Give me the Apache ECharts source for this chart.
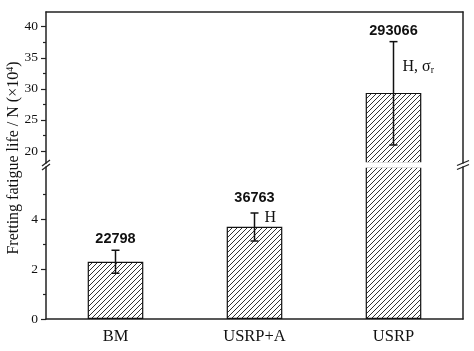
<!DOCTYPE html>
<html><head><meta charset="utf-8">
<script src="https://cdn.jsdelivr.net/npm/echarts@6/dist/echarts.min.js"></script>
<style>html,body{margin:0;padding:0;background:#fff}#c{width:474px;height:351px}</style>
</head><body><div id="c"></div>
<script>
// ---- data (fatigue life in units of 10^4 cycles) ----
const categories = ['BM', 'USRP+A', 'USRP'];
const barValues = [2.29, 3.69, 29.35];
const errLow = [1.83, 3.12, 20.97];
const errHigh = [2.75, 4.24, 37.6];
const lifeLabels = ['22798', '36763', '293066'];
const notes = ['', 'H', 'H, σ{sub|r}'];
const lowerTicks = [0, 2, 4];
const lowerMinorTicks = [1, 3, 5];
const upperTicks = [20, 25, 30, 35, 40];
const upperMinorTicks = [22.5, 27.5, 32.5, 37.5];
const lowerRange = [0, 6.08];
const upperRange = [18.07, 42.37];

// ---- style / layout ----
const GL = 46, GR = 11;
const labelGap = [11, 15, 11];
const noteDx = [10, 10, 9];
const noteDy = [0, 5, 25];
const axisColor = '#222';
const serif = '"Liberation Serif", "Times New Roman", serif';

const pat = document.createElement('canvas');
pat.width = 5; pat.height = 5;
(function () {
  const g = pat.getContext('2d');
  g.fillStyle = '#fff'; g.fillRect(0, 0, 5, 5);
  g.strokeStyle = '#333'; g.lineWidth = 1;
  g.beginPath();
  g.moveTo(-1, 6); g.lineTo(6, -1);
  g.moveTo(-1, 1); g.lineTo(1, -1);
  g.moveTo(4, 6); g.lineTo(6, 4);
  g.stroke();
})();
const barStyle = { color: { image: pat, repeat: 'repeat' }, borderColor: '#111', borderWidth: 1.2 };

const chart = echarts.init(document.getElementById('c'), null, { renderer: 'canvas' });

function valueAxis(grid, range, ticks, minor) {
  return [
    { type: 'value', gridIndex: grid, position: 'left', min: range[0], max: range[1],
      axisLine: { show: true, onZero: false, lineStyle: { color: axisColor, width: 1.5 } },
      axisTick: { show: true, length: 5, customValues: ticks, lineStyle: { color: axisColor, width: 1.2 } },
      axisLabel: { customValues: ticks, fontFamily: serif, fontSize: 13.5, color: '#111', margin: 8 },
      splitLine: { show: false } },
    { type: 'value', gridIndex: grid, position: 'left', min: range[0], max: range[1],
      axisLine: { show: false, onZero: false },
      axisTick: { show: true, length: 3, customValues: minor, lineStyle: { color: axisColor, width: 1.2 } },
      axisLabel: { show: false }, splitLine: { show: false } },
    { type: 'value', gridIndex: grid, position: 'right', min: range[0], max: range[1],
      axisLine: { show: true, onZero: false, lineStyle: { color: axisColor, width: 1.5 } },
      axisTick: { show: false }, axisLabel: { show: false }, splitLine: { show: false } }
  ];
}

function errData(pred) {
  const out = [];
  for (let i = 0; i < categories.length; i++) if (pred(i)) out.push([i, errLow[i], errHigh[i]]);
  return out;
}

function renderErr(params, api) {
  const i = api.value(0);
  const hi = api.coord([i, api.value(2)]);
  const lo = api.coord([i, api.value(1)]);
  const c = 4;
  const ls = { stroke: '#111', lineWidth: 1.5 };
  const ch = [
    { type: 'line', shape: { x1: hi[0], y1: hi[1], x2: lo[0], y2: lo[1] }, style: ls },
    { type: 'line', shape: { x1: hi[0] - c, y1: hi[1], x2: hi[0] + c, y2: hi[1] }, style: ls },
    { type: 'line', shape: { x1: lo[0] - c, y1: lo[1], x2: lo[0] + c, y2: lo[1] }, style: ls },
    { type: 'text', style: { text: lifeLabels[i], x: hi[0], y: hi[1] - labelGap[i], align: 'center', verticalAlign: 'middle',
        fontFamily: '"Liberation Sans", Arial, sans-serif', fontWeight: 'bold', fontSize: 14.5, fill: '#111' } }
  ];
  if (notes[i]) ch.push({ type: 'text', style: { text: notes[i], x: hi[0] + noteDx[i], y: hi[1] + noteDy[i], align: 'left', verticalAlign: 'middle',
      fontFamily: serif, fontSize: 16, fill: '#111', lineHeight: 18,
      rich: { sub: { fontFamily: serif, fontSize: 10, lineHeight: 10, verticalAlign: 'bottom', fill: '#111' } } } });
  return { type: 'group', children: ch };
}

const option = {
  animation: false,
  grid: [
    { left: GL, right: GR, top: 12, height: 151 },
    { left: GL, right: GR, top: 167, bottom: 32 }
  ],
  xAxis: [
    { type: 'category', gridIndex: 0, data: categories, position: 'top',
      axisLine: { show: true, onZero: false, lineStyle: { color: axisColor, width: 1.5 } },
      axisTick: { show: false }, axisLabel: { show: false }, splitLine: { show: false } },
    { type: 'category', gridIndex: 1, data: categories, position: 'bottom',
      axisLine: { show: true, onZero: false, lineStyle: { color: axisColor, width: 1.5 } },
      axisTick: { show: false },
      axisLabel: { fontFamily: serif, fontSize: 16.5, color: '#111', margin: 9 }, splitLine: { show: false } }
  ],
  yAxis: valueAxis(0, upperRange, upperTicks, upperMinorTicks).concat(valueAxis(1, lowerRange, lowerTicks, lowerMinorTicks)),
  series: [
    { type: 'bar', xAxisIndex: 0, yAxisIndex: 0, barWidth: '40%', clip: true,
      data: barValues.map(v => v > upperRange[0] ? v : '-'), itemStyle: barStyle },
    { type: 'bar', xAxisIndex: 1, yAxisIndex: 3, barWidth: '40%', clip: true,
      data: barValues, itemStyle: barStyle },
    { type: 'custom', xAxisIndex: 0, yAxisIndex: 0, clip: false, z: 5,
      data: errData(i => errLow[i] >= upperRange[0]), renderItem: renderErr },
    { type: 'custom', xAxisIndex: 1, yAxisIndex: 3, clip: false, z: 5,
      data: errData(i => errHigh[i] <= lowerRange[1]), renderItem: renderErr }
  ]
};
chart.setOption(option);

// axis-break gap, break marks and y-axis title
const yTop = chart.convertToPixel({ yAxisIndex: 0 }, upperRange[0]);
const yBot = chart.convertToPixel({ yAxisIndex: 3 }, lowerRange[1]);
const cy = (yTop + yBot) / 2;
const xL = GL, xR = 474 - GR;
const bs = { stroke: '#222', lineWidth: 1.3 };
chart.setOption({
  graphic: [
    { type: 'rect', z: 10, shape: { x: xL + 1, y: yTop - 0.8, width: xR - xL - 2, height: yBot - yTop + 1.6 },
      style: { fill: '#fff' } },
    { type: 'line', z: 11, shape: { x1: xL - 4, y1: cy + 1, x2: xL + 4, y2: cy - 5 }, style: bs },
    { type: 'line', z: 11, shape: { x1: xL - 4, y1: cy + 5, x2: xL + 4, y2: cy - 1 }, style: bs },
    { type: 'line', z: 11, shape: { x1: xR - 6, y1: cy + 0.5, x2: xR + 6, y2: cy - 4.5 }, style: bs },
    { type: 'line', z: 11, shape: { x1: xR - 6, y1: cy + 4.5, x2: xR + 6, y2: cy - 0.5 }, style: bs },
    { type: 'text', x: 14, y: 158, rotation: Math.PI / 2,
      style: { text: 'Fretting fatigue life / N (×10{sup|4})', align: 'center', verticalAlign: 'middle',
        fontFamily: serif, fontSize: 16, fill: '#111', lineHeight: 18,
        rich: { sup: { fontFamily: serif, fontSize: 10, lineHeight: 10, verticalAlign: 'top', fill: '#111' } } } }
  ]
});
</script></body></html>
